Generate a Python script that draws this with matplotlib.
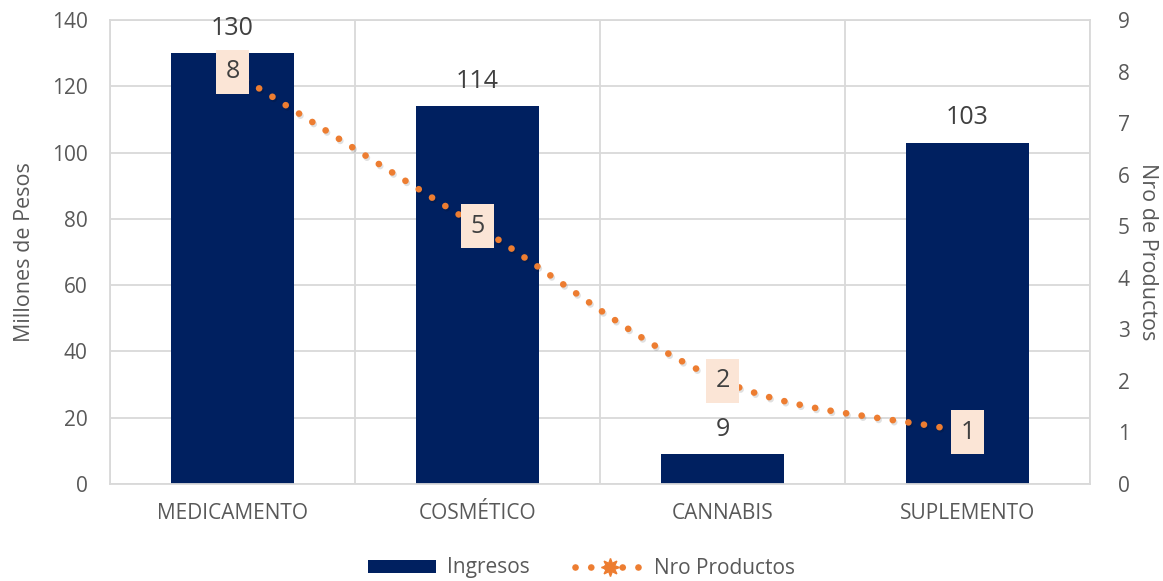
import numpy as np
import matplotlib
matplotlib.use("Agg")
import matplotlib.pyplot as plt
import matplotlib.patheffects as pe
from matplotlib.lines import Line2D
from matplotlib.patches import Patch

categories = ["MEDICAMENTO", "COSMÉTICO", "CANNABIS", "SUPLEMENTO"]
ingresos = [130, 114, 9, 103]
nro_productos = [8, 5, 2, 1]

bar_color = "#002060"
line_color = "#ED7D31"
box_color = "#FBE5D6"
text_color = "#595959"
grid_color = "#D9D9D9"

plt.rcParams['font.family'] = ['Open Sans', 'DejaVu Sans']

fig = plt.figure(figsize=(11.63, 5.81), dpi=100)
ax = fig.add_axes([110/1163, 1-484/581, (1090-110)/1163, (484-20)/581])
ax2 = ax.twinx()

x = np.arange(len(categories))
ax.bar(x, ingresos, width=0.5, color=bar_color, zorder=2)
ax.set_xlim(-0.5, len(categories) - 0.5)
ax.set_ylim(0, 140)
ax.set_yticks(np.arange(0, 141, 20))
ax.set_xticks(x)
ax.set_xticklabels(categories)
ax.set_xticks(np.arange(-0.5, len(categories), 1), minor=True)
ax.grid(axis='y', color=grid_color, lw=1.3, zorder=0)
ax.grid(axis='x', which='minor', color=grid_color, lw=1.3, zorder=0)
ax.set_axisbelow(True)
ax.tick_params(axis='both', which='both', length=0, colors=text_color, labelsize=15)
ax.tick_params(axis='x', pad=14)
ax.tick_params(axis='y', pad=16)
for s in ax.spines.values():
    s.set_color(grid_color)
    s.set_linewidth(1.3)
for s in ax2.spines.values():
    s.set_visible(False)
ax.set_ylabel("Millones de Pesos", color=text_color, fontsize=15.5, labelpad=12)

for xi, v in zip(x, ingresos):
    ax.annotate(f"{v}", (xi, v), xytext=(0, 18), textcoords='offset points',
                ha='center', va='center', fontsize=18, color="#404040", zorder=5)

# smoothed line (Catmull-Rom through data points)
px = x.astype(float)
py = np.array(nro_productos, dtype=float)
ext_x = np.concatenate([[2*px[0]-px[1]], px, [2*px[-1]-px[-2]]])
ext_y = np.concatenate([[2*py[0]-py[1]], py, [2*py[-1]-py[-2]]])
sx, sy = [], []
for i in range(1, len(ext_x) - 2):
    p0, p1, p2, p3 = [np.array([ext_x[j], ext_y[j]]) for j in (i-1, i, i+1, i+2)]
    c1 = p1 + (p2 - p0) / 6
    c2 = p2 - (p3 - p1) / 6
    t = np.linspace(0, 1, 60)[:, None]
    pts = (1-t)**3*p1 + 3*(1-t)**2*t*c1 + 3*(1-t)*t**2*c2 + t**3*p2
    sx.extend(pts[:, 0]); sy.extend(pts[:, 1])

dot_style = (0, (0.01, 2.35))
ax2.plot(sx, sy, color=line_color, lw=4.8, linestyle=dot_style,
         dash_capstyle='round', zorder=3,
         path_effects=[pe.SimpleLineShadow(offset=(1, -1.5), shadow_color='black', alpha=0.12),
                       pe.Normal()])
ax2.set_ylim(0, 9)
ax2.set_yticks(range(0, 10))
ax2.tick_params(axis='y', length=0, colors=text_color, labelsize=15, pad=20)
ax2.set_ylabel("Nro de Productos", color=text_color, fontsize=15.5, rotation=270,
               labelpad=20)

for xi, v in zip(px, py):
    ax2.text(xi, v, f"{int(v)}", ha='center', va='center', fontsize=18,
             color="#404040", zorder=6,
             bbox=dict(boxstyle='square,pad=0.38', fc=box_color, ec='none'))

handles = [Patch(facecolor=bar_color, edgecolor='none'),
           Line2D([0], [0], color=line_color, lw=4.8, linestyle=dot_style,
                  dash_capstyle='round', marker=(8, 1, 0), markersize=13,
                  markerfacecolor=line_color, markeredgecolor=line_color)]
fig.legend(handles, ["Ingresos", "Nro Productos"], loc='center',
           bbox_to_anchor=(0.5, 1-568/581), ncol=2, frameon=False,
           fontsize=15, labelcolor=text_color, handlelength=3.3,
           handletextpad=0.5, columnspacing=2.2, handleheight=0.6)

fig.savefig("out.png", dpi=100)
